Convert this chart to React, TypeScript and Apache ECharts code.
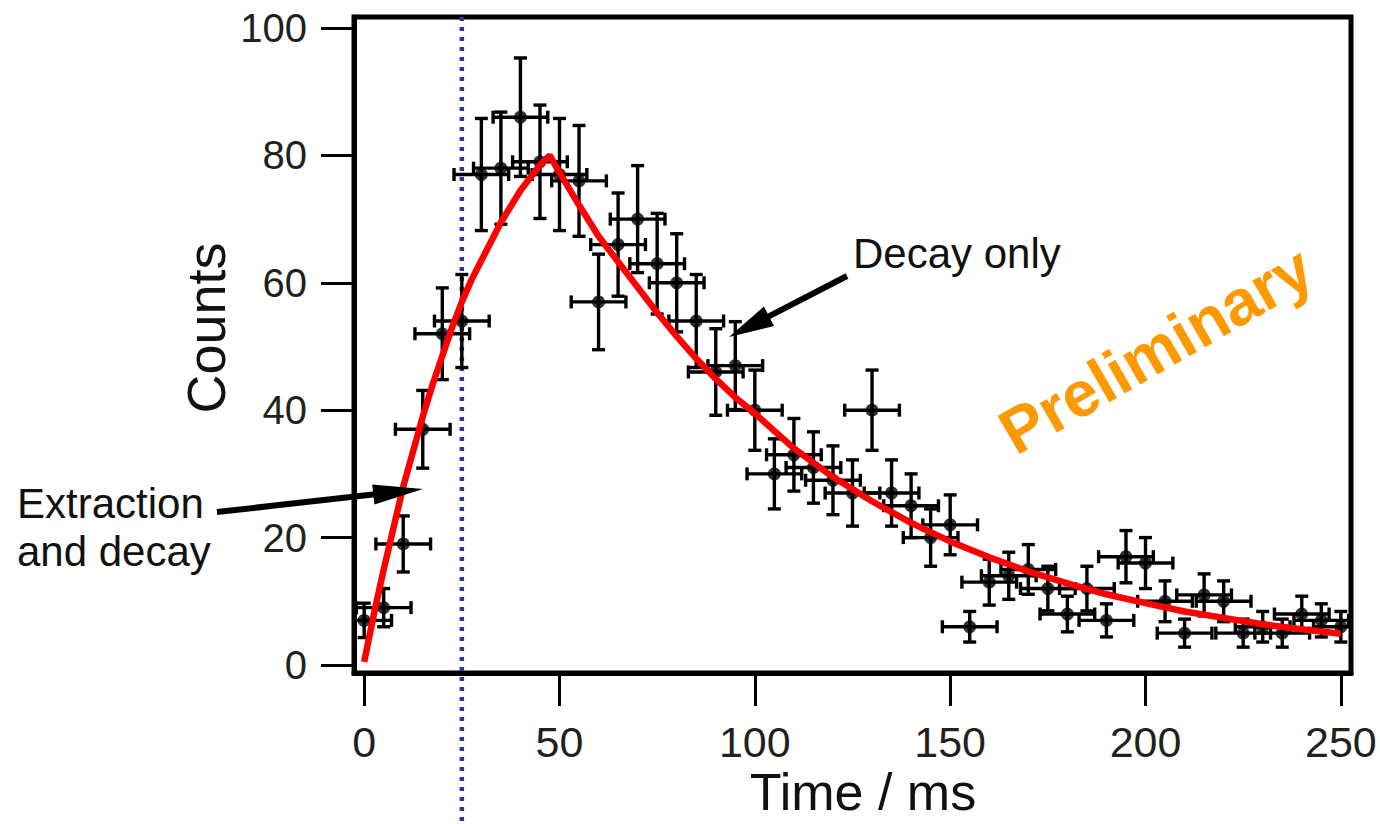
import React, { useEffect, useRef } from "react";
import * as echarts from "echarts";

// ---- data ----
const TIMES = [0, 5, 10, 15, 20, 25, 30, 35, 40, 45, 50, 55, 60, 65, 70, 75, 80, 85, 90, 95, 100, 105, 110, 115, 120, 125, 130, 135, 140, 145, 150, 155, 160, 165, 170, 175, 180, 185, 190, 195, 200, 205, 210, 215, 220, 225, 230, 235, 240, 245, 250];
const COUNTS = [7, 9, 19, 37, 52, 54, 77, 78, 86, 79, 77, 76, 57, 66, 70, 63, 60, 54, 46, 47, 40, 30, 33, 31, 29, 27, 40, 27, 25, 20, 22, 6, 13, 14, 15, 12, 8, 12, 7, 17, 16, 10, 5, 11, 10, 5, 6, 5, 8, 7, 6];
const COUNT_ERR = [2.7, 3, 4.4, 6.1, 7.2, 7.3, 8.8, 8.8, 9.3, 8.9, 8.8, 8.7, 7.5, 8.1, 8.4, 7.9, 7.7, 7.3, 6.8, 6.9, 6.3, 5.5, 5.7, 5.6, 5.4, 5.2, 6.3, 5.2, 5, 4.5, 4.7, 2.4, 3.6, 3.7, 3.9, 3.5, 2.8, 3.5, 2.6, 4.1, 4, 3.2, 2.2, 3.3, 3.2, 2.2, 2.4, 2.2, 2.8, 2.6, 2.4];
const TIME_ERR = 7;

const FIT_T = [0, 2.5, 5, 7.5, 10, 12.5, 15, 17.5, 20, 22.5, 25, 27.5, 30, 32.5, 35, 37.5, 40, 42.5, 45, 47.5, 50, 55, 60, 65, 70, 75, 80, 85, 90, 95, 100, 110, 120, 130, 140, 150, 160, 170, 180, 190, 200, 210, 220, 230, 240, 250];
const FIT_Y = [0.5, 8, 15, 21.5, 28, 33.5, 39, 44, 48.5, 53, 57, 60.5, 63.5, 66.5, 69.5, 72, 74.5, 76.5, 78.5, 80, 77.3, 72.2, 67.3, 63.3, 59.3, 55.3, 51.6, 48.1, 44.9, 42, 39.5, 34, 29.5, 25.7, 22.3, 19.4, 16.9, 14.7, 12.8, 11.1, 9.7, 8.4, 7.4, 6.4, 5.6, 4.9];

const X_TICKS = [0, 50, 100, 150, 200, 250];
const Y_TICKS = [0, 20, 40, 60, 80, 100];
const DIVIDER_T = 25;

const X_TITLE = "Time / ms";
const Y_TITLE = "Counts";
const NOTE_DECAY = "Decay only";
const NOTE_EXTRACT_1 = "Extraction";
const NOTE_EXTRACT_2 = "and decay";
const WATERMARK = "Preliminary";

const FONT = "'Liberation Sans', Arial, Helvetica, sans-serif";

function arrow(tail: number[], tip: number[], headLen: number, headHalf: number, width: number) {
  const dx = tip[0] - tail[0];
  const dy = tip[1] - tail[1];
  const len = Math.sqrt(dx * dx + dy * dy);
  const ux = dx / len;
  const uy = dy / len;
  const bx = tip[0] - ux * headLen;
  const by = tip[1] - uy * headLen;
  const nx = -uy;
  const ny = ux;
  return [
    {
      type: "line",
      shape: { x1: tail[0], y1: tail[1], x2: bx + ux * 4, y2: by + uy * 4 },
      style: { stroke: "#000", lineWidth: width },
      z: 20,
    },
    {
      type: "polygon",
      shape: {
        points: [
          [tip[0], tip[1]],
          [bx + nx * headHalf, by + ny * headHalf],
          [bx - nx * headHalf, by - ny * headHalf],
        ],
      },
      style: { fill: "#000" },
      z: 20,
    },
  ];
}

function txt(text: string, x: number, y: number, size: number, extra: any = {}) {
  return {
    type: "text",
    x,
    y,
    rotation: extra.rotation || 0,
    z: 20,
    style: {
      text,
      fontSize: size,
      lineHeight: extra.lineHeight || Math.round(size * 1.05),
      fontFamily: extra.fontFamily || FONT,
      fontWeight: extra.fontWeight || "normal",
      fill: extra.fill || "#111",
      align: extra.align || "left",
      textAlign: extra.align || "left",
      verticalAlign: "middle",
      textVerticalAlign: "middle",
    },
  };
}

export default function App() {
  const ref = useRef<HTMLDivElement>(null);

  useEffect(() => {
    if (!ref.current) return;
    const chart = echarts.init(ref.current, null, { renderer: "svg" });

    const errData = TIMES.map((t, i) => [t, COUNTS[i], TIME_ERR, COUNT_ERR[i]]);
    const pts = TIMES.map((t, i) => [t, COUNTS[i]]);
    const fit = FIT_T.map((t, i) => [t, FIT_Y[i]]);

    const option: any = {
      animation: false,
      backgroundColor: "#fff",
      grid: {
        left: 354,
        right: 29,
        top: 17,
        bottom: 151,
        show: true,
        borderColor: "#000",
        borderWidth: 5,
        backgroundColor: "transparent",
        outerBoundsMode: "none",
      },
      xAxis: {
        type: "value",
        min: -2.6,
        max: 252.6,
        axisLine: { show: true, onZero: false, lineStyle: { color: "#000", width: 5 } },
        axisTick: { show: true, inside: false, length: 33, customValues: X_TICKS, lineStyle: { color: "#000", width: 3 } },
        axisLabel: { customValues: X_TICKS, margin: 47, fontSize: 43, fontFamily: FONT, color: "#231f20" },
        splitLine: { show: false },
      },
      yAxis: {
        type: "value",
        min: -1.26,
        max: 101.73,
        axisLine: { show: true, onZero: false, lineStyle: { color: "#000", width: 5 } },
        axisTick: { show: true, inside: false, length: 33, customValues: Y_TICKS, lineStyle: { color: "#000", width: 3 } },
        axisLabel: { customValues: Y_TICKS, margin: 47, fontSize: 40, fontFamily: FONT, color: "#231f20" },
        splitLine: { show: false },
      },
      series: [
        {
          type: "custom",
          clip: true,
          z: 2,
          silent: true,
          encode: { x: 0, y: 1 },
          data: errData,
          renderItem: (params: any, api: any) => {
            const x = api.value(0);
            const y = api.value(1);
            const ex = api.value(2);
            const ey = api.value(3);
            const c = api.coord([x, y]);
            const l = api.coord([x - ex, y]);
            const r = api.coord([x + ex, y]);
            const t = api.coord([x, y + ey]);
            const b = api.coord([x, y - ey]);
            const cap = 6.5;
            const style = { stroke: "#000", lineWidth: 3.4, fill: null };
            return {
              type: "group",
              children: [
                { type: "line", shape: { x1: l[0], y1: c[1], x2: r[0], y2: c[1] }, style },
                { type: "line", shape: { x1: l[0], y1: c[1] - cap, x2: l[0], y2: c[1] + cap }, style },
                { type: "line", shape: { x1: r[0], y1: c[1] - cap, x2: r[0], y2: c[1] + cap }, style },
                { type: "line", shape: { x1: c[0], y1: t[1], x2: c[0], y2: b[1] }, style },
                { type: "line", shape: { x1: c[0] - cap, y1: t[1], x2: c[0] + cap, y2: t[1] }, style },
                { type: "line", shape: { x1: c[0] - cap, y1: b[1], x2: c[0] + cap, y2: b[1] }, style },
              ],
            };
          },
        },
        {
          type: "scatter",
          z: 3,
          silent: true,
          symbol: "circle",
          symbolSize: 13,
          itemStyle: { color: "#000" },
          data: pts,
        },
        {
          type: "line",
          z: 4,
          silent: true,
          showSymbol: false,
          smooth: false,
          lineStyle: { color: "#ff0000", width: 6.5 },
          data: fit,
        },
      ],
      graphic: {
        elements: [
          txt(Y_TITLE, 206, 328, 54, { align: "center", rotation: Math.PI / 2 }),
          txt(X_TITLE, 863, 792, 52, { align: "center", lineHeight: 44 }),
          txt(NOTE_DECAY, 853, 253, 42),
          txt(NOTE_EXTRACT_1, 17, 503, 42),
          txt(NOTE_EXTRACT_2, 17, 551, 42),
          txt(WATERMARK, 1156, 350, 64, {
            align: "center",
            rotation: (30 * Math.PI) / 180,
            fontWeight: "bold",
            fill: "#ff9900",
          }),
          ...arrow([847, 276], [729, 337], 45, 11, 6),
          ...arrow([217, 512], [423, 489], 50, 10, 6),
        ],
      },
    };

    chart.setOption(option);

    const px = chart.convertToPixel({ xAxisIndex: 0 }, DIVIDER_T) as number;
    chart.setOption({
      graphic: {
        elements: [
          {
            id: "divider",
            type: "line",
            z: 1,
            shape: { x1: px, y1: 17, x2: px, y2: 822 },
            style: { stroke: "#333399", lineWidth: 4.5, lineDash: [4, 6] },
          },
        ],
      },
    });

    return () => chart.dispose();
  }, []);

  return (
    <div
      ref={ref}
      style={{ position: "fixed", left: 0, top: 0, width: 1380, height: 824, background: "#fff" }}
    />
  );
}
